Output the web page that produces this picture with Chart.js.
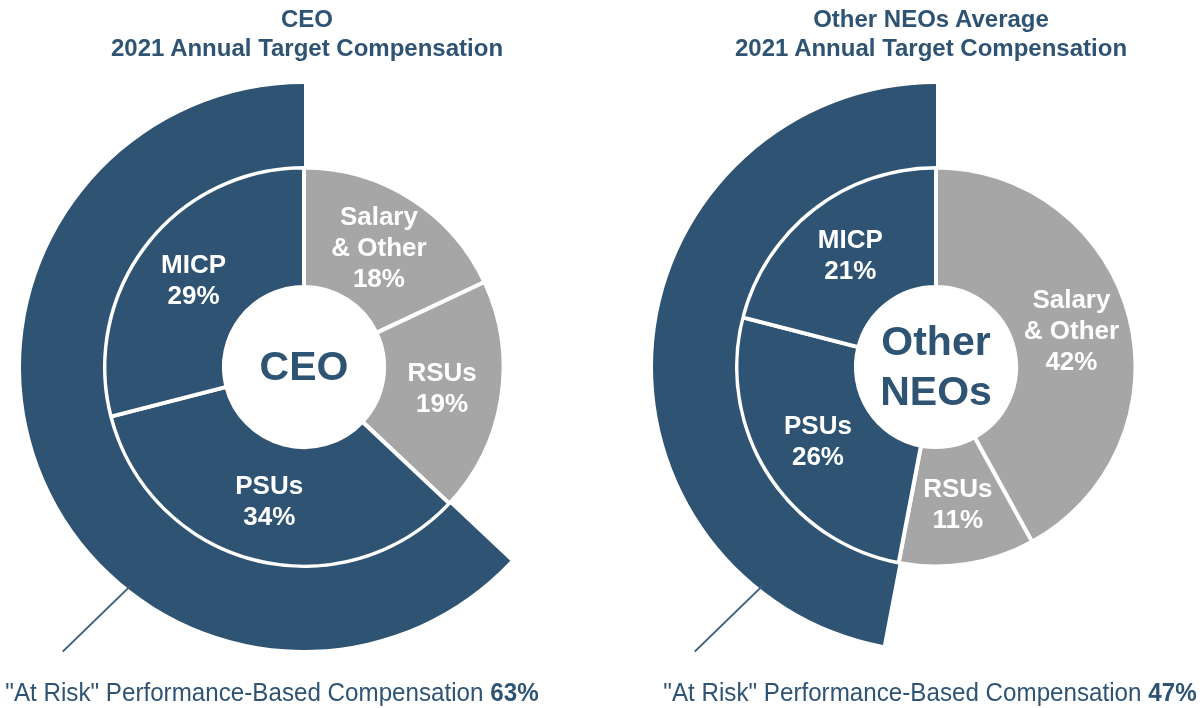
<!DOCTYPE html>
<html>
<head>
<meta charset="utf-8">
<script src="https://cdn.jsdelivr.net/npm/chart.js@4"></script>
<style>
  body { margin: 0; background: #fff; width: 1204px; height: 708px; overflow: hidden; position: relative;
         font-family: "Liberation Sans", Arial, sans-serif; }
  .box { position: absolute; top: 0; width: 602px; height: 708px; }
  .box canvas { display: block; }
  .title { position: absolute; top: 4px; transform: translateX(-50%); text-align: center; font-weight: bold;
           font-size: 24px; line-height: 29px; color: #2f5473; white-space: nowrap; }
  .note { position: absolute; top: 692px; transform: translate(-50%, -50%) scaleX(0.93); font-size: 26px;
          color: #2f5473; white-space: nowrap; }
</style>
</head>
<body>
<div class="box" style="left:0"><canvas id="ceo" width="602" height="708"></canvas></div>
<div class="box" style="left:602px"><canvas id="neo" width="602" height="708"></canvas></div>
<div class="title" style="left:307px">CEO<br>2021 Annual Target Compensation</div>
<div class="title" style="left:931px">Other NEOs Average<br>2021 Annual Target Compensation</div>
<div class="note" style="left:272px">"At Risk" Performance-Based Compensation <b id="ceoRisk"></b></div>
<div class="note" style="left:930px">"At Risk" Performance-Based Compensation <b id="neoRisk"></b></div>
<script>
// pay components, clockwise from 12 o'clock
const categories = [['Salary', '& Other'], ['RSUs'], ['PSUs'], ['MICP']];
const ceoValues = [18, 19, 34, 29];
const neoValues = [42, 11, 26, 21];
// "at risk" share = PSUs + MICP
const ceoAtRisk = 63;
const neoAtRisk = 47;

const dark = '#2f5473';
const gray = '#a6a6a6';

const labelPlugin = {
  id: 'segLabels',
  afterDatasetsDraw(chart, args, opts) {
    const ctx = chart.ctx;
    const ring = chart.getDatasetMeta(2);
    ctx.save();
    ctx.textAlign = 'center';
    ctx.textBaseline = 'middle';

    // segment labels at the middle of each arc
    ctx.fillStyle = '#fff';
    ctx.font = 'bold 26px "Liberation Sans", Arial, sans-serif';
    ring.data.forEach((arc, i) => {
      const p = arc.tooltipPosition();
      const lines = opts.names[i].concat([chart.data.datasets[2].data[i] + '%']);
      lines.forEach((t, j) => ctx.fillText(t, p.x, p.y + (j - (lines.length - 1) / 2) * 31));
    });

    // text in the hole
    const outer = chart.getDatasetMeta(0).data[1];
    const cx = outer.x, cy = outer.y;
    ctx.fillStyle = dark;
    ctx.font = 'bold 41px "Liberation Sans", Arial, sans-serif';
    opts.center.forEach((t, j) => ctx.fillText(t, cx, cy + 2 + (j - (opts.center.length - 1) / 2) * 50));

    // leader line off the outer arc
    const a = 128.4 * Math.PI / 180;
    const x0 = cx + (outer.outerRadius - 4) * Math.cos(a);
    const y0 = cy + (outer.outerRadius - 4) * Math.sin(a);
    ctx.strokeStyle = '#3e5f7c';
    ctx.lineWidth = 2;
    ctx.beginPath();
    ctx.moveTo(x0, y0);
    ctx.lineTo(x0 - 68, y0 + 66);
    ctx.stroke();
    ctx.restore();
  }
};

function makeChart(id, values, atRisk, center, padLeft) {
  new Chart(document.getElementById(id), {
    type: 'doughnut',
    data: {
      labels: categories.map(c => c.join(' ')),
      datasets: [{
        // outer "at risk" band
        data: [100 - atRisk, atRisk],
        backgroundColor: ['rgba(0,0,0,0)', dark],
        borderWidth: 0,
        weight: 82,
        clip: false
      }, {
        // thin white gap between the two rings
        data: [100],
        backgroundColor: ['rgba(0,0,0,0)'],
        borderWidth: 0,
        weight: 1.5,
        clip: false
      }, {
        data: values,
        backgroundColor: [gray, gray, dark, dark],
        borderColor: '#fff',
        borderWidth: 4,
        weight: 119.5,
        clip: false
      }]
    },
    options: {
      responsive: false,
      animation: false,
      events: [],
      radius: 283,
      cutout: '28.3%',
      layout: { padding: { left: padLeft, right: 0, top: 26, bottom: 0 } },
      plugins: {
        legend: { display: false },
        tooltip: { enabled: false },
        segLabels: { names: categories, center: center }
      }
    },
    plugins: [labelPlugin]
  });
}

makeChart('ceo', ceoValues, ceoAtRisk, ['CEO'], 6);
makeChart('neo', neoValues, neoAtRisk, ['Other', 'NEOs'], 66);
document.getElementById('ceoRisk').textContent = ceoAtRisk + '%';
document.getElementById('neoRisk').textContent = neoAtRisk + '%';
</script>
</body>
</html>
